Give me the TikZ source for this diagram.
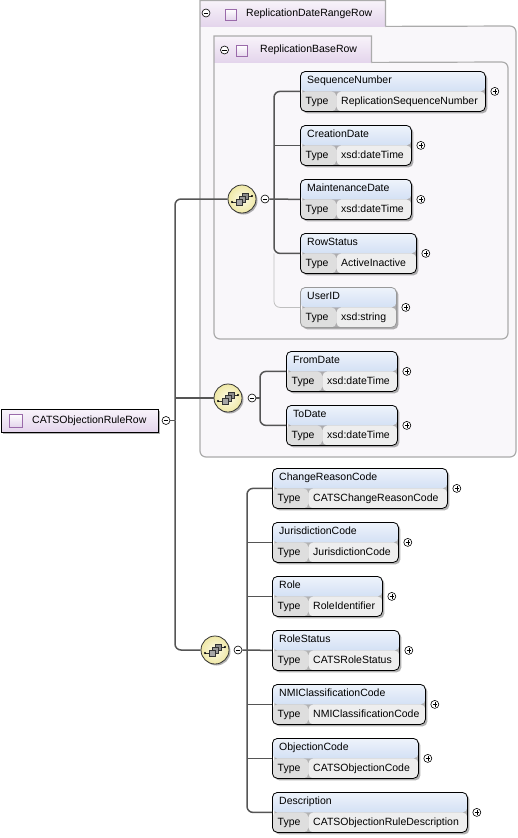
\documentclass[tikz,border=0pt]{standalone}
\usepackage{fontspec}
\setmainfont{Liberation Sans}
\usetikzlibrary{shadows}

\definecolor{hdtop}{HTML}{EEF3FB}
\definecolor{hdbot}{HTML}{B9CEEE}
\definecolor{typecell}{HTML}{DEDEDE}
\definecolor{valcell}{HTML}{EEEEEE}
\definecolor{lavtop}{HTML}{F8F3FA}
\definecolor{lavbot}{HTML}{E4D5EC}
\definecolor{grpfill}{HTML}{F9F7FA}
\definecolor{grpline}{HTML}{ABABAB}
\definecolor{sqline}{HTML}{9A6AAA}
\definecolor{seqin}{HTML}{FDFBE8}
\definecolor{seqout}{HTML}{EFE8A6}
\definecolor{connline}{HTML}{555555}

\tikzset{
  xtext/.style={font=\fontsize{10.5}{12}\selectfont, inner sep=0pt, text height=7.6pt, text depth=2.2pt, anchor=west},
  elembox/.style={draw=#1, line width=0.8pt, rounded corners=5pt, minimum height=40pt, inner sep=0pt, anchor=north west,
    drop shadow={shadow xshift=2pt, shadow yshift=-2pt, fill=black, opacity=0.3},
    path picture={
      \shade[top color=hdtop, bottom color=hdbot] (path picture bounding box.north west) rectangle (path picture bounding box.east);
      \fill[typecell] (path picture bounding box.west) rectangle ([xshift=36pt]path picture bounding box.south west);
      \fill[valcell] ([xshift=36pt]path picture bounding box.west) rectangle (path picture bounding box.south east);
    }},
  elembox/.default=black,
  pmcirc/.style={circle, draw=black, line width=0.6pt, fill=white, minimum size=8pt, inner sep=0pt},
  pmminus/.style={pmcirc, path picture={
      \draw[line width=0.6pt] ([xshift=-2.3pt]path picture bounding box.center) -- ([xshift=2.3pt]path picture bounding box.center);}},
  pmplus/.style={pmcirc, path picture={
      \draw[line width=0.6pt] ([xshift=-2.3pt]path picture bounding box.center) -- ([xshift=2.3pt]path picture bounding box.center);
      \draw[line width=0.6pt] ([yshift=-2.3pt]path picture bounding box.center) -- ([yshift=2.3pt]path picture bounding box.center);}},
  sqicon/.style={draw=sqline, line width=0.7pt, top color=white, bottom color=lavbot, minimum size=11pt, inner sep=0pt},
  tabbox/.style={top color=lavtop, bottom color=lavbot, inner sep=0pt, anchor=north west},
  rootbox/.style={draw=black, line width=0.8pt, top color=lavtop, bottom color=lavbot, minimum width=157pt, minimum height=23pt,
    inner sep=0pt, anchor=north west, drop shadow={shadow xshift=2pt, shadow yshift=-2pt, fill=black, opacity=0.3}},
  seqicon/.style={circle, draw=black!80, line width=0.8pt, minimum size=28pt, inner sep=0pt, inner color=seqin, outer color=seqout,
    drop shadow={shadow xshift=1.5pt, shadow yshift=-1.5pt, fill=black, opacity=0.3},
    path picture={
      \begin{scope}[shift={(path picture bounding box.center)}, x=1pt, y=1pt, line width=0.5pt]
        \draw[line width=0.7pt] (-10,-3) -- (-6,-3);
        \fill (-10,-3) circle (1.1);
        \draw[line width=0.7pt] (6,3) -- (10,3);
        \fill (10,3) circle (1.1);
        \filldraw[fill=black!45] (0,0) rectangle (6,6);
        \filldraw[fill=black!40] (-3,-3) rectangle (3,3);
        \filldraw[fill=black!35] (-6,-6) rectangle (0,0);
      \end{scope}}},
  grpline/.style={draw=grpline, line width=1.2pt},
  conn/.style={draw=connline, line width=1.5pt, rounded corners=6pt},
  optconn/.style={draw=black!25, line width=0.8pt, rounded corners=6pt}
}

% element box: [border]{name}{x}{y}{width}{label}{type}
\newcommand{\xsdelem}[7][black]{%
  \node[elembox=#1, minimum width=#5pt] (#2) at (#3,#4) {};
  \node[xtext] (#2-n) at ([xshift=7pt,yshift=-10pt]#2.north west) {#6};
  \node[xtext] (#2-t) at ([xshift=5.5pt,yshift=10.5pt]#2.south west) {Type};
  \node[xtext] (#2-v) at ([xshift=41pt,yshift=10.5pt]#2.south west) {#7};
  \node[pmplus] (#2-p) at ([xshift=9pt]#2.east) {};
}

\begin{document}
\begin{tikzpicture}[x=1pt, y=-1pt]
\useasboundingbox (0,0) rectangle (518,838);

% ReplicationDateRangeRow group
\fill[grpfill] (385,26) [rounded corners=6pt] -- (516,26) -- (516,457) -- (200,457) [sharp corners] -- (200,26) -- cycle;
\node[tabbox, minimum width=185pt, minimum height=25.4pt] (drrtab) at (200,0.6) {};
\draw[grpline] (drrtab.south east) [rounded corners=6pt] -- (516,26) -- (516,457) -- (200,457) [sharp corners] -- (drrtab.north west) -- (drrtab.north east) -- (drrtab.south east);
\node[pmminus] (drrm) at (206,13) {};
\node[sqicon] (drrsq) at (231,14.5) {};
\node[xtext] (drrlbl) at (246,13.5) {ReplicationDateRangeRow};

% ReplicationBaseRow group
\fill[grpfill] (371,62) [rounded corners=6pt] -- (508,62) -- (508,339) -- (214,339) [sharp corners] -- (214,62) -- cycle;
\node[tabbox, minimum width=157pt, minimum height=26pt] (rbrtab) at (214,36) {};
\draw[grpline] (rbrtab.south east) [rounded corners=6pt] -- (508,62) -- (508,339) -- (214,339) [sharp corners] -- (rbrtab.north west) -- (rbrtab.north east) -- (rbrtab.south east);
\node[pmminus] (rbrm) at (224.5,50) {};
\node[sqicon] (rbrsq) at (242,51) {};
\node[xtext] (rbrlbl) at (260,50) {ReplicationBaseRow};

% root
\node[rootbox] (root) at (1,409) {};
\node[sqicon, minimum size=13pt] (rootsq) at (15.5,420.5) {};
\node[xtext] (rootlbl) at (32,420.5) {CATSObjectionRuleRow};
\node[pmminus] (rootm) at (166,420.5) {};

% sequences
\node[seqicon] (seqa) at (242,199) {};
\node[pmminus] (seqam) at (265,199) {};
\node[seqicon] (seqb) at (228,398) {};
\node[pmminus] (seqbm) at (252,398) {};
\node[seqicon] (seqc) at (215,650) {};
\node[pmminus] (seqcm) at (238,650) {};

% elements
\xsdelem{seqnum}{300}{71}{185}{SequenceNumber}{ReplicationSequenceNumber}
\xsdelem{creat}{300}{125}{111}{CreationDate}{xsd:dateTime}
\xsdelem{maint}{300}{179}{111}{MaintenanceDate}{xsd:dateTime}
\xsdelem{rowst}{300}{233}{116}{RowStatus}{ActiveInactive}
\xsdelem[black!40]{userid}{300}{287}{96}{UserID}{xsd:string}
\xsdelem{fromd}{286}{351}{111}{FromDate}{xsd:dateTime}
\xsdelem{tod}{286}{405}{111}{ToDate}{xsd:dateTime}
\xsdelem{crc}{272}{468}{175}{ChangeReasonCode}{CATSChangeReasonCode}
\xsdelem{jur}{272}{522}{126}{JurisdictionCode}{JurisdictionCode}
\xsdelem{role}{272}{576}{110}{Role}{RoleIdentifier}
\xsdelem{rolest}{272}{630}{127}{RoleStatus}{CATSRoleStatus}
\xsdelem{nmi}{272}{684}{153}{NMIClassificationCode}{NMIClassificationCode}
\xsdelem{objc}{272}{738}{146}{ObjectionCode}{CATSObjectionCode}
\xsdelem{desc}{272}{792}{195}{Description}{CATSObjectionRuleDescription}

% connectors
\coordinate (trunk) at (175,420.5);
\coordinate (busa) at (274,199);
\coordinate (busb) at (260,398);
\coordinate (busc) at (247,650);
\draw[conn] (rootm.east) -- (trunk);
\draw[conn] (seqa.west) -| (trunk);
\draw[conn] (seqc.west) -| (trunk);
\draw[conn] (seqb.west) -- (seqb.west -| trunk);

\draw[optconn] (userid.west) -| (rowst.west -| busa);
\draw[conn] (seqam.east) -- (maint.west);
\draw[conn] (seqnum.west) -| (busa);
\draw[conn] (rowst.west) -| (busa);
\draw[conn] (creat.west) -- (creat.west -| busa);

\draw[conn] (seqbm.east) -- (busb);
\draw[conn] (fromd.west) -| (busb);
\draw[conn] (tod.west) -| (busb);

\draw[conn] (seqcm.east) -- (rolest.west);
\draw[conn] (crc.west) -| (busc);
\draw[conn] (desc.west) -| (busc);
\draw[conn] (jur.west) -- (jur.west -| busc);
\draw[conn] (role.west) -- (role.west -| busc);
\draw[conn] (nmi.west) -- (nmi.west -| busc);
\draw[conn] (objc.west) -- (objc.west -| busc);
\end{tikzpicture}
\end{document}
